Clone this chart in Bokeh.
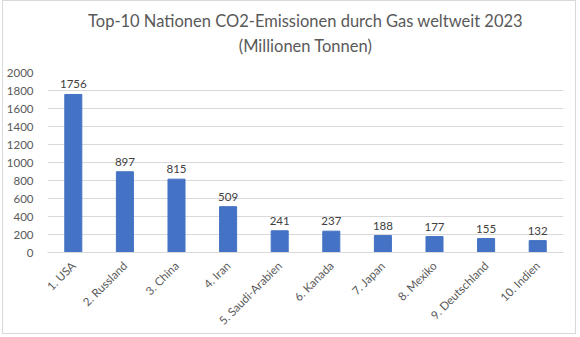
from bokeh.plotting import figure
from bokeh.models import ColumnDataSource, Title, FixedTicker, Range1d
from bokeh.embed import file_html
from bokeh.resources import INLINE
from bokeh.core.properties import value
import math

countries = ["1. USA", "2. Russland", "3. China", "4. Iran", "5. Saudi-Arabien",
             "6. Kanada", "7. Japan", "8. Mexiko", "9. Deutschland", "10. Indien"]
emissions = [1756, 897, 815, 509, 241, 237, 188, 177, 155, 132]
y_ticks = [0, 200, 400, 600, 800, 1000, 1200, 1400, 1600, 1800, 2000]
title_lines = ["Top-10 Nationen CO2-Emissionen durch Gas weltweit 2023", "(Millionen Tonnen)"]

FONT = "Lato"
src = ColumnDataSource(dict(x=countries, y=emissions, lbl=[str(v) for v in emissions]))

p = figure(x_range=countries, y_range=Range1d(0, 2000), width=574, height=334,
           output_backend="svg", toolbar_location=None,
           min_border_left=43, min_border_right=14, min_border_bottom=83, min_border_top=71)
p.margin = (0, 0, 0, 2)
p.styles = {"border": "1px solid #d9d9d9"}

# spacer between frame and subtitle
p.add_layout(Title(text=" ", text_font_size="1px", standoff=12), "above")
p.add_layout(Title(text=title_lines[1], align="center", offset=-14, text_font=FONT,
                   text_font_size="16.5px", text_font_style="normal", text_color="#595959",
                   standoff=4), "above")
p.add_layout(Title(text=title_lines[0], align="center", offset=-14, text_font=FONT,
                   text_font_size="16.5px", text_font_style="normal", text_color="#595959",
                   standoff=2), "above")

p.vbar(x="x", top="y", width=0.33, source=src, color="#4472C4")
p.text(x="x", y="y", text="lbl", source=src, text_align="center", text_baseline="bottom",
       y_offset=-6, text_font=value(FONT), text_font_size="11.5px", text_color="#404040")

p.outline_line_color = None
p.xgrid.grid_line_color = None
p.ygrid.grid_line_color = "#d9d9d9"
p.yaxis.ticker = FixedTicker(ticks=y_ticks)
p.yaxis.axis_line_color = None
p.yaxis.major_tick_line_color = None
p.yaxis.minor_tick_line_color = None
p.yaxis.major_label_standoff = 8
p.xaxis.axis_line_color = "#d9d9d9"
p.xaxis.major_tick_line_color = None
p.xaxis.major_label_orientation = math.pi / 4
p.xaxis.major_label_standoff = 5
for ax in (p.xaxis, p.yaxis):
    ax.major_label_text_font = FONT
    ax.major_label_text_color = "#595959"
p.yaxis.major_label_text_font_size = "11.5px"
p.xaxis.major_label_text_font_size = "11.5px"

open("out.html", "w").write(file_html(p, INLINE))
